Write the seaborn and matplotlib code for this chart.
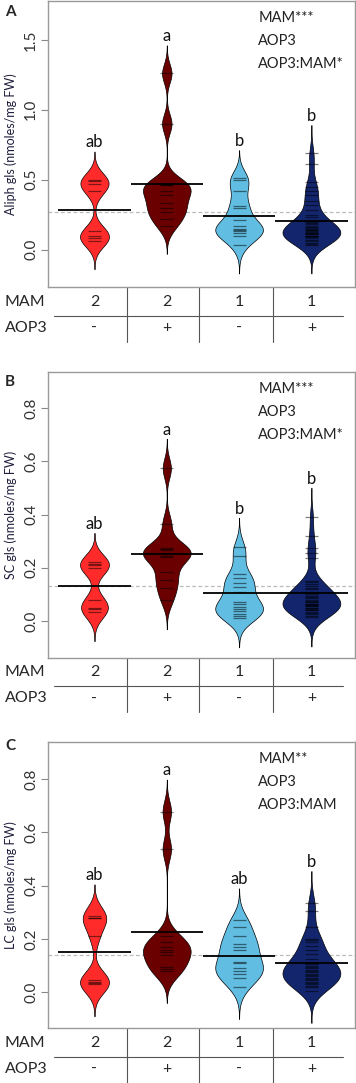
import numpy as np
import seaborn as sns
import matplotlib.pyplot as plt

# genotype order: MAM2/AOP3-, MAM2/AOP3+, MAM1/AOP3-, MAM1/AOP3+
mam = ["2", "2", "1", "1"]
aop3 = ["-", "+", "-", "+"]
colors = ["#FF2B2B", "#6B0000", "#62BDE3", "#13266D"]

# A: aliphatic glucosinolates (nmoles/mg FW)
aliph_m2_neg = [0.06, 0.08, 0.10, 0.13, 0.42, 0.47, 0.49, 0.50]
aliph_m2_pos = [1.26, 0.90, 0.47, 0.46, 0.46, 0.42, 0.39, 0.33, 0.30, 0.27, 0.22, 0.17]
aliph_m1_neg = [0.51, 0.50, 0.42, 0.31, 0.30, 0.21, 0.17, 0.15, 0.14, 0.13, 0.12, 0.10, 0.03]
aliph_m1_pos = [0.69, 0.61, 0.48, 0.45, 0.42, 0.39, 0.35, 0.32, 0.28, 0.25, 0.23, 0.20,
                0.19, 0.18, 0.17, 0.16, 0.155, 0.15, 0.14, 0.14, 0.13, 0.125, 0.12, 0.12,
                0.11, 0.11, 0.10, 0.10, 0.095, 0.09, 0.08, 0.07, 0.06, 0.05, 0.04, 0.03]
aliph_letters = ["ab", "a", "b", "b"]
aliph_effects = ["MAM***", "AOP3", "AOP3:MAM*"]

# B: short chain glucosinolates
sc_m2_neg = [0.035, 0.045, 0.05, 0.08, 0.20, 0.21, 0.215, 0.22]
sc_m2_pos = [0.574, 0.365, 0.275, 0.27, 0.265, 0.25, 0.245, 0.24, 0.185, 0.155, 0.125, 0.08]
sc_m1_neg = [0.277, 0.244, 0.175, 0.16, 0.144, 0.129, 0.11, 0.07, 0.064, 0.054, 0.045,
             0.039, 0.026, 0.02, 0.012]
sc_m1_pos = [0.39, 0.32, 0.275, 0.255, 0.235, 0.15, 0.145, 0.14, 0.13, 0.125, 0.12, 0.11,
             0.105, 0.10, 0.095, 0.09, 0.085, 0.08, 0.075, 0.07, 0.07, 0.065, 0.065, 0.06,
             0.06, 0.055, 0.055, 0.05, 0.05, 0.045, 0.04, 0.04, 0.035, 0.03, 0.025, 0.02, 0.015]
sc_letters = ["ab", "a", "b", "b"]
sc_effects = ["MAM***", "AOP3", "AOP3:MAM*"]

# C: long chain glucosinolates
lc_m2_neg = [0.03, 0.035, 0.04, 0.045, 0.21, 0.28, 0.28, 0.285]
lc_m2_pos = [0.678, 0.537, 0.212, 0.19, 0.17, 0.16, 0.15, 0.14, 0.096, 0.087, 0.08]
lc_m1_neg = [0.27, 0.245, 0.21, 0.18, 0.17, 0.16, 0.115, 0.11, 0.09, 0.08, 0.067, 0.055, 0.02]
lc_m1_pos = [0.335, 0.305, 0.245, 0.20, 0.195, 0.19, 0.175, 0.16, 0.145, 0.125, 0.115, 0.11,
             0.105, 0.10, 0.095, 0.09, 0.085, 0.08, 0.075, 0.07, 0.065, 0.06, 0.055, 0.05,
             0.045, 0.04, 0.035, 0.03, 0.025, 0.02, 0.005]
lc_letters = ["ab", "a", "ab", "b"]
lc_effects = ["MAM**", "AOP3", "AOP3:MAM"]

panels = [
    ("A", "Aliph gls (nmoles/mg FW)", [aliph_m2_neg, aliph_m2_pos, aliph_m1_neg, aliph_m1_pos],
     aliph_letters, aliph_effects, 0.067, (-0.27, 1.78), [0.0, 0.5, 1.0, 1.5]),
    ("B", "SC gls (nmoles/mg FW)", [sc_m2_neg, sc_m2_pos, sc_m1_neg, sc_m1_pos],
     sc_letters, sc_effects, 0.037, (-0.138, 0.937), [0.0, 0.2, 0.4, 0.6, 0.8]),
    ("C", "LC gls (nmoles/mg FW)", [lc_m2_neg, lc_m2_pos, lc_m1_neg, lc_m1_pos],
     lc_letters, lc_effects, 0.040, (-0.135, 0.940), [0.0, 0.2, 0.4, 0.6, 0.8]),
]

# bean widths (style)
widths = [0.40, 0.66, 0.66, 0.80]

sns.set_style("white")
plt.rcParams["font.family"] = ["Lato", "DejaVu Sans"]

W, H = 356, 1083
fig = plt.figure(figsize=(W / 100, H / 100), dpi=100)

# axes boxes in pixels: (top, bottom)
boxes = [(0.7, 287.3), (371.7, 657.7), (741.7, 1028.3)]
letter_y = [12, 382, 746]
x0, x1 = 48, 355

for (tag, ylab, groups, letters, effects, bw, ylim, yticks), (top, bot), ly in zip(panels, boxes, letter_y):
    ax = fig.add_axes([x0 / W, 1 - bot / H, (x1 - x0) / W, (bot - top) / H])

    for i, vals in enumerate(groups):
        sns.violinplot(x=np.full(len(vals), i), y=vals, native_scale=True, orient="x",
                       color=colors[i], saturation=1, width=widths[i], density_norm="width",
                       bw_method=lambda k, h=bw: h / k.dataset.std(ddof=1),
                       cut=3, inner=None, linecolor="black", linewidth=0.5, ax=ax)
        # beans
        ax.hlines(vals, i - 0.09, i + 0.09, color="black", alpha=0.5, lw=0.9, zorder=3)
        # group mean
        ax.hlines(np.mean(vals), i - 0.5, i + 0.5, color="black", lw=1.3, zorder=4)
        # significance letter
        ax.annotate(letters[i], (i, max(vals) + 3 * bw), xytext=(0, 3),
                    textcoords="offset points", ha="center", va="baseline",
                    fontsize=12, color="#111111")

    overall = np.mean(np.concatenate(groups))
    ax.axhline(overall, color="#bbbbbb", lw=0.9, ls=(0, (3, 2)), zorder=0.5)

    ax.set_xlim(-0.643, 3.603)
    ax.set_ylim(*ylim)
    ax.set_xticks([])
    ax.set_yticks(yticks)
    ax.set_yticklabels([f"{t:.1f}" for t in yticks], rotation=90, va="center")
    ax.tick_params(axis="y", direction="out", length=5, width=0.8, color="#888888",
                   labelsize=11, labelcolor="#333333", pad=2, left=True)
    ax.set_xlabel("")
    ax.set_ylabel(ylab, fontsize=9, color="#1E1E3C")
    ax.yaxis.set_label_coords(-31 / 307, 0.5)
    for s in ax.spines.values():
        s.set_color("#999999")
        s.set_linewidth(1.0)

    # effects text
    for j, t in enumerate(effects):
        ax.text(0.685, 0.941 - j * 0.081, t, transform=ax.transAxes, ha="left", va="center",
                fontsize=10.5, color="#222222")

    # genotype table under the plot
    ah = bot - top
    trans = ax.get_xaxis_transform()
    for i in range(4):
        ax.text(i, -14.7 / ah, mam[i], transform=trans, ha="center", va="center", fontsize=11.5)
        ax.text(i, -40.7 / ah, aop3[i], transform=trans, ha="center", va="center", fontsize=11.5)
    for xs in [0.45, 1.45, 2.47]:
        ax.plot([xs, xs], [0, -54.7 / ah], transform=trans, color="#555555", lw=0.8, clip_on=False)
    ax.plot([-0.56, 3.44], [-28.7 / ah, -28.7 / ah], transform=trans, color="#555555",
            lw=0.8, clip_on=False)
    ax.text(-43 / 307, -14.7 / ah, "MAM", transform=ax.transAxes, ha="left", va="center", fontsize=11.5)
    ax.text(-43 / 307, -40.7 / ah, "AOP3", transform=ax.transAxes, ha="left", va="center", fontsize=11.5)

    fig.text(5 / W, 1 - ly / H, tag, ha="left", va="center", fontsize=11, fontweight="bold")

fig.savefig("out.png", dpi=100)
